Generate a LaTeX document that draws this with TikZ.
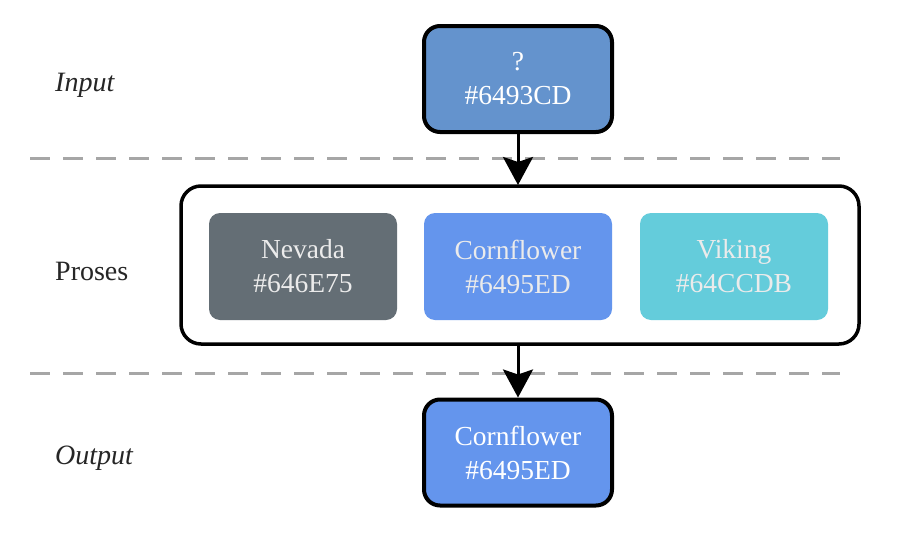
\documentclass[tikz,border=0pt]{standalone}
\usepackage{fontspec}
\setmainfont{Liberation Serif}
\usetikzlibrary{arrows.meta}
\definecolor{cin}{HTML}{6493CD}
\definecolor{cnev}{HTML}{646E75}
\definecolor{ccorn}{HTML}{6495ED}
\definecolor{cvik}{HTML}{64CCDB}
\begin{document}
\begin{tikzpicture}[x=1pt,y=-1pt,
  txt/.style={font=\fontsize{27.5}{34}\selectfont, align=center},
  mainbox/.style={txt, draw=black, line width=4pt, rounded corners=16pt, minimum width=188pt, minimum height=106pt, text=white, inner sep=0pt},
  colbox/.style={txt, rounded corners=11pt, minimum width=188pt, minimum height=107pt, text=white!92!black, inner sep=0pt},
  rowlabel/.style={font=\fontsize{28}{30}\selectfont, text=black!85, anchor=west, inner sep=0pt},
  sep/.style={draw=black!35, line width=3pt, dash pattern=on 20pt off 13pt},
  conn/.style={draw=black, line width=3pt, -{Stealth[length=28pt,width=30pt,inset=5pt]}}
]
\useasboundingbox (0,0) rectangle (900,533);
\fill[white] (0,0) rectangle (900,533);

\draw[sep] (30,158) -- (840,158);
\draw[sep] (30,373) -- (840,373);

\node[mainbox, fill=cin] (in) at (518,79) {?\\\#6493CD};
\node[draw=black, line width=3.5pt, rounded corners=20pt, minimum width=678pt, minimum height=158pt, inner sep=0pt] (pro) at (520,265) {};
\node[colbox, fill=cnev] (nev) at (303,266.5) {Nevada\\\#646E75};
\node[colbox, fill=ccorn] (corn) at (518,266.5) {Cornflower\\\#6495ED};
\node[colbox, fill=cvik] (vik) at (734,266.5) {Viking\\\#64CCDB};
\node[mainbox, fill=ccorn] (out) at (518,452.5) {Cornflower\\\#6495ED};

\coordinate (pt) at (518,185);
\coordinate (pb) at (518,345);
\draw[conn] (in.south) -- (pt);
\draw[conn] (pb) -- (out.north);

\node[rowlabel, font=\fontsize{28}{30}\selectfont\itshape] (lin) at (55,85) {Input};
\node[rowlabel] (lpro) at (55,271) {Proses};
\node[rowlabel, font=\fontsize{28}{30}\selectfont\itshape] (lout) at (55,458) {Output};
\end{tikzpicture}
\end{document}
